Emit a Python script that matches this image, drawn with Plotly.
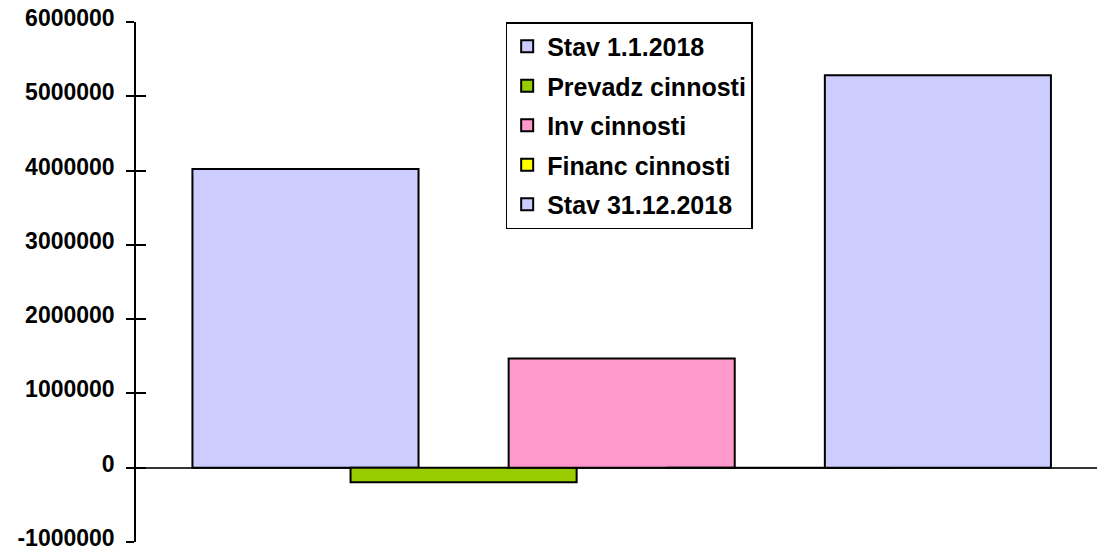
import plotly.graph_objects as go

series_names = ["Stav 1.1.2018", "Prevadz cinnosti", "Inv cinnosti", "Financ cinnosti", "Stav 31.12.2018"]
series_values = [4020000, -195000, 1470000, 0, 5282000]
series_colors = ["#CCCCFF", "#99CC00", "#FF99CC", "#FFFF00", "#CCCCFF"]
tick_values = [-1000000, 0, 1000000, 2000000, 3000000, 4000000, 5000000, 6000000]
tick_labels = [str(v) for v in tick_values]

BAR_W = 1.43
TICK_FONT = dict(family="Liberation Sans, Arial, sans-serif", size=23, color="black", weight="bold")
LEG_FONT = dict(family="Liberation Sans, Arial, sans-serif", size=25, color="black", weight="bold")

fig = go.Figure()
for i, (name, val, col) in enumerate(zip(series_names, series_values, series_colors)):
    fig.add_trace(go.Bar(
        x=[i], y=[val], width=[BAR_W], name=name, legendgroup=name,
        marker=dict(color=col, line=dict(color="black", width=2)),
    ))

# invisible helper for inner ticks
fig.add_trace(go.Scatter(x=[0], y=[0], yaxis="y2", mode="markers",
                         marker=dict(opacity=0), showlegend=False, hoverinfo="skip"))

yr = [-1000000, 6000000]
fig.update_layout(
    width=1097, height=545,
    margin=dict(l=128, r=0, t=14, b=11, autoexpand=False),
    plot_bgcolor="white", paper_bgcolor="white",
    barmode="overlay",
    showlegend=True,
    xaxis=dict(range=[-1.072, 5.057], showgrid=False, zeroline=False, automargin=False,
               showticklabels=False, ticks="", showline=False),
    yaxis=dict(range=yr, tickvals=tick_values, ticktext=tick_labels, automargin=False,
               ticklabeloverflow="allow", ticklabelshift=-4,
               showgrid=False, zeroline=True, zerolinecolor="#333333", zerolinewidth=1.5,
               showline=True, linecolor="black", linewidth=1.5,
               ticks="outside", ticklen=8, tickwidth=1.5, tickcolor="black",
               tickfont=TICK_FONT, ticklabelstandoff=7),
    yaxis2=dict(range=yr, overlaying="y", side="left", tickvals=tick_values, automargin=False,
                showticklabels=False, showgrid=False, zeroline=False, showline=False,
                ticks="inside", ticklen=10, tickwidth=1.5, tickcolor="black"),
    legend=dict(x=0.3815, y=1.0, xanchor="left", yanchor="top",
                bgcolor="white", bordercolor="black", borderwidth=1.5,
                font=LEG_FONT, tracegroupgap=4, traceorder="grouped",
                itemwidth=30),
)

fig.write_html("out.html")
